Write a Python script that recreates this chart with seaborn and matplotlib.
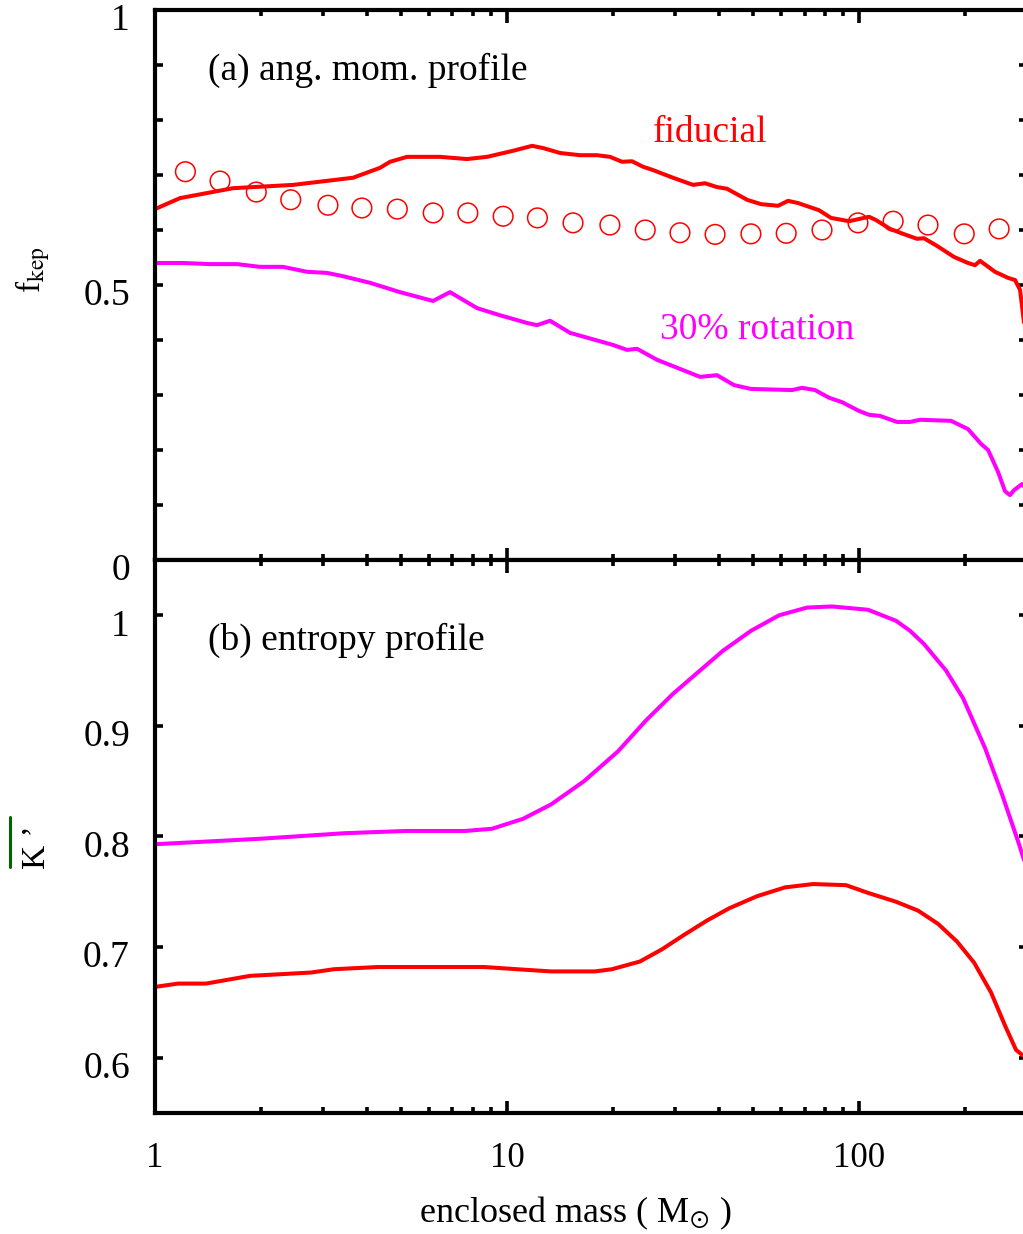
import matplotlib
matplotlib.use("Agg")
import matplotlib.pyplot as plt
import seaborn as sns
from matplotlib.lines import Line2D
from matplotlib.ticker import NullFormatter
from matplotlib.transforms import ScaledTranslation

sns.set_style("ticks")
plt.rcParams["font.family"] = ["Liberation Serif", "DejaVu Serif"]
plt.rcParams["mathtext.fontset"] = "stix"
plt.rcParams.update({"text.color": "black", "axes.labelcolor": "black",
                     "xtick.color": "black", "ytick.color": "black"})

# --- (a) angular momentum profile ---
fid_m = [1.00, 1.178, 1.666, 2.466, 3.652, 4.357, 4.652, 5.199, 6.452, 7.697, 8.774, 10.40,
         11.78, 12.66, 14.15, 16.12, 18.02, 19.62, 21.22, 22.65, 24.35, 25.98, 29.62, 33.77,
         36.52, 39.50, 42.17, 45.03, 48.07, 52.68, 58.89, 62.85, 67.09, 76.97, 83.26, 93.67,
         106.8, 111.8, 122.5, 133.4, 146.1, 153.0, 166.6, 186.2, 204.0, 213.6, 220.7, 243.4,
         265.0, 277.5, 286.7, 296.2, 300.0]
fid_f = [0.638, 0.658, 0.676, 0.682, 0.695, 0.713, 0.724, 0.733, 0.733, 0.729, 0.733, 0.744,
         0.753, 0.749, 0.740, 0.736, 0.736, 0.733, 0.724, 0.725, 0.715, 0.709, 0.695, 0.682,
         0.685, 0.678, 0.675, 0.665, 0.655, 0.647, 0.644, 0.653, 0.649, 0.636, 0.622, 0.616,
         0.624, 0.618, 0.602, 0.593, 0.584, 0.585, 0.571, 0.551, 0.540, 0.536, 0.544, 0.524,
         0.513, 0.509, 0.491, 0.416, 0.375]

rot_m = [1.00, 1.201, 1.433, 1.710, 1.987, 2.310, 2.703, 3.081, 3.421, 4.081, 4.966, 6.164,
         6.889, 8.220, 9.552, 11.40, 12.17, 13.25, 15.10, 20.01, 21.93, 23.41, 26.68, 35.34,
         39.50, 44.15, 49.34, 64.52, 68.87, 74.99, 82.19, 89.47, 100.0, 106.8, 114.7, 128.2,
         139.6, 149.0, 182.6, 204.0, 222.2, 232.6, 248.3, 259.9, 268.5, 275.6, 290.4, 302.0]
rot_f = [0.540, 0.540, 0.538, 0.538, 0.533, 0.533, 0.524, 0.522, 0.516, 0.504, 0.487, 0.471,
         0.487, 0.458, 0.445, 0.431, 0.427, 0.435, 0.413, 0.391, 0.382, 0.384, 0.364, 0.333,
         0.336, 0.318, 0.311, 0.309, 0.313, 0.309, 0.295, 0.287, 0.271, 0.264, 0.262, 0.251,
         0.251, 0.255, 0.253, 0.238, 0.211, 0.200, 0.160, 0.125, 0.118, 0.127, 0.138, 0.125]

circ_m = [1.22, 1.53, 1.94, 2.43, 3.10, 3.87, 4.88, 6.17, 7.74, 9.75, 12.2, 15.4,
          19.6, 24.7, 31.0, 39.0, 49.3, 62.1, 78.5, 99.3, 125, 157, 199, 250]
circ_f = [0.706, 0.689, 0.669, 0.655, 0.645, 0.640, 0.638, 0.631, 0.631, 0.625, 0.622, 0.613,
          0.609, 0.600, 0.595, 0.592, 0.593, 0.594, 0.600, 0.613, 0.616, 0.609, 0.593, 0.602]

# --- (b) entropy profile ---
ent_rot_m = [1.0, 2.001, 3.465, 5.166, 7.598, 9.067, 11.11, 13.34, 16.55, 20.67, 24.83, 29.62,
             34.44, 41.08, 49.34, 59.27, 71.18, 83.80, 106.1, 127.4, 139.6, 153.0, 176.7, 197.5,
             228.0, 254.9, 284.8, 300.0]
ent_rot_k = [0.793, 0.798, 0.803, 0.805, 0.805, 0.807, 0.816, 0.829, 0.850, 0.877, 0.905, 0.929,
             0.947, 0.968, 0.986, 1.000, 1.007, 1.008, 1.005, 0.995, 0.986, 0.974, 0.950, 0.925,
             0.880, 0.838, 0.793, 0.770]

ent_fid_m = [1.0, 1.162, 1.396, 1.862, 2.775, 3.225, 4.301, 8.605, 10.68, 13.34, 17.78, 19.88,
             23.87, 27.56, 31.82, 36.99, 42.72, 51.31, 61.64, 74.02, 91.87, 106.1, 127.4, 147.1,
             167.7, 189.8, 212.2, 237.1, 259.9, 279.3, 292.4]
ent_fid_k = [0.664, 0.667, 0.667, 0.674, 0.677, 0.680, 0.682, 0.682, 0.680, 0.678, 0.678, 0.680,
             0.687, 0.698, 0.711, 0.724, 0.735, 0.746, 0.754, 0.757, 0.756, 0.749, 0.741, 0.733,
             0.721, 0.705, 0.686, 0.659, 0.629, 0.607, 0.602]

RED = "#ff0000"
MAG = "#ff00ff"

fig = plt.figure(figsize=(10.23, 12.34), dpi=100)
ax1 = fig.add_axes([0.1515, 0.54619, 0.8524, 0.44571])
ax2 = fig.add_axes([0.1515, 0.09806, 0.8524, 0.44813], sharex=ax1)

sns.lineplot(x=fid_m, y=fid_f, ax=ax1, color=RED, lw=2.9, estimator=None, sort=False)
sns.lineplot(x=rot_m, y=rot_f, ax=ax1, color=MAG, lw=2.9, estimator=None, sort=False)
sns.scatterplot(x=circ_m, y=circ_f, ax=ax1, s=200, marker="o",
                facecolors="none", edgecolors=RED, linewidths=1.1)

sns.lineplot(x=ent_rot_m, y=ent_rot_k, ax=ax2, color=MAG, lw=2.9, estimator=None, sort=False)
sns.lineplot(x=ent_fid_m, y=ent_fid_k, ax=ax2, color=RED, lw=2.9, estimator=None, sort=False)

ax1.set_xscale("log")
ax1.set_xlim(1, 300)
ax1.set_ylim(0, 1)
ax2.set_ylim(0.55, 1.05)

for ax in (ax1, ax2):
    for sp in ax.spines.values():
        sp.set_linewidth(3)
        sp.set_color("black")
    ax.tick_params(which="both", direction="in", top=True, right=True, width=2.6, color="black")
    ax.tick_params(axis="x", which="major", length=9, pad=21, labelsize=25)
    ax.tick_params(axis="x", which="minor", length=4.5)
    ax.tick_params(axis="y", which="both", length=6, pad=18, labelsize=27)
    ax.set_xlabel("")
    ax.set_ylabel("")

# y ticks
ax1.set_yticks([0, 0.5, 1])
ax1.set_yticklabels(["0", "0.5", "1"])
ax1.set_yticks([0.1, 0.2, 0.3, 0.4, 0.6, 0.7, 0.8, 0.9], minor=True)
ax2.set_yticks([0.6, 0.7, 0.8, 0.9, 1.0])
ax2.set_yticklabels(["0.6", "0.7", "0.8", "0.9", "1"])
shift = ScaledTranslation(0, -7 / 100, fig.dpi_scale_trans)
for ax in (ax1, ax2):
    for lbl in ax.get_yticklabels():
        lbl.set_transform(lbl.get_transform() + shift)

# x ticks
ax2.set_xticks([1, 10, 100])
ax2.set_xticklabels(["1", "10", "100"])
ax2.xaxis.set_minor_formatter(NullFormatter())
ax1.tick_params(axis="x", which="both", labelbottom=False)

# axis labels
ax1.set_ylabel(r"f$_{\rm kep}$", fontsize=24)
ax1.yaxis.set_label_coords(-0.118, 0.527)
ax2.set_ylabel("K ’", fontsize=24)
ax2.yaxis.set_label_coords(-0.118, 0.48)
fig.add_artist(Line2D([10 / 1023, 10 / 1023], [1 - 817 / 1234, 1 - 867 / 1234],
                      transform=fig.transFigure, color="#006400", lw=2.2))
ax2.set_xlabel(r"enclosed mass ( M$_{\odot}$ )", fontsize=26)
ax2.xaxis.set_label_coords(0.482, -0.148)

# annotations
ax1.text(0.0608, 0.891, "(a) ang. mom. profile", transform=ax1.transAxes,
         fontsize=27, va="center", ha="left")
ax1.text(0.571, 0.776, "fiducial", transform=ax1.transAxes,
         fontsize=27, va="center", ha="left", color=RED)
ax1.text(0.579, 0.418, "30% rotation", transform=ax1.transAxes,
         fontsize=27, va="center", ha="left", color=MAG)
ax2.text(0.0608, 0.855, "(b) entropy profile", transform=ax2.transAxes,
         fontsize=27, va="center", ha="left")

fig.savefig("out.png", dpi=100)
